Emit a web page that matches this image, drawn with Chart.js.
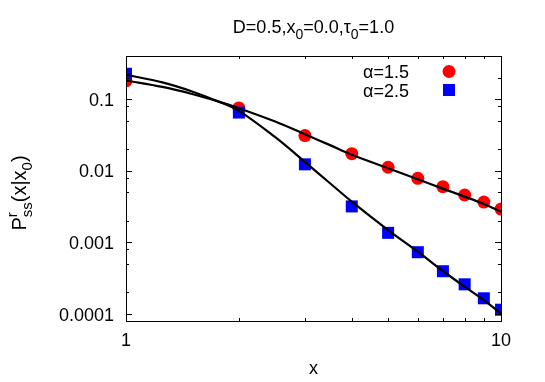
<!DOCTYPE html>
<html><head><meta charset="utf-8">
<script src="https://cdn.jsdelivr.net/npm/chart.js@4.4.0/dist/chart.umd.min.js"></script>
<style>html,body{margin:0;padding:0;background:#fff}#wrap{width:545px;height:382px}</style>
</head><body><div id="wrap"><canvas id="c" width="545" height="382"></canvas></div>
<script>
// ---- data ----
const xPoints = [1, 2, 3, 4, 5, 6, 7, 8, 9, 10];
const alpha15 = [0.18, 0.0755, 0.031, 0.0173, 0.0112, 0.00785, 0.0060, 0.00459, 0.00366, 0.00292];
const alpha25 = [0.226, 0.065, 0.0123, 0.00318, 0.00136, 0.00073, 0.000396, 0.00026, 0.000166, 0.000115];
const xCurve = [1, 1.25, 1.5, 1.75, 2, 2.5, 3, 3.5, 4, 5, 6, 7, 8, 9, 10];
const curve15 = [0.182, 0.148, 0.118, 0.0938, 0.0748, 0.0487, 0.0324, 0.0228, 0.0167, 0.01086, 0.00762, 0.00563, 0.00436, 0.00344, 0.00269];
const curve25 = [0.219, 0.171, 0.128, 0.094, 0.0687, 0.0294, 0.0133, 0.0067, 0.00371, 0.00149, 0.000743, 0.000399, 0.000241, 0.000157, 0.000102];
const xTickValues = [1, 10];
const xTickLabels = ['1', '10'];
const xMinorTicks = [2, 3, 4, 5, 6, 7, 8, 9];
const yTickValues = [0.1, 0.01, 0.001, 0.0001];
const yTickLabels = ['0.1', '0.01', '0.001', '0.0001'];
const yMinorTicks = [0.2, 0.08, 0.05, 0.02, 0.008, 0.005, 0.002, 0.0008, 0.0005, 0.0002];
const legendLabels = ['\u03b1=1.5', '\u03b1=2.5'];

const FONT = '"Liberation Sans", Arial, Helvetica, sans-serif';
const toXY = (xs, ys) => xs.map((x, i) => ({x: x, y: ys[i]}));

function drawRich(ctx, segs, cx, base) {
  const measure = s => { ctx.font = s.size + 'px ' + FONT; return ctx.measureText(s.t).width; };
  let w = 0;
  segs.forEach(s => { w += s.group ? Math.max(...s.group.map(measure)) : measure(s); });
  let x = cx - w / 2;
  ctx.textAlign = 'left';
  ctx.textBaseline = 'alphabetic';
  segs.forEach(s => {
    const items = s.group || [s];
    let mw = 0;
    items.forEach(it => {
      ctx.font = it.size + 'px ' + FONT;
      ctx.fillText(it.t, x, base + (it.dy || 0));
      mw = Math.max(mw, ctx.measureText(it.t).width);
    });
    x += mw;
  });
}

const decor = {
  id: 'decor',
  afterDatasetsDraw(chart) {
    const ctx = chart.ctx, a = chart.chartArea;
    const xs = chart.scales.x, ys = chart.scales.y;
    ctx.save();
    ctx.strokeStyle = '#000';
    ctx.fillStyle = '#000';
    ctx.lineWidth = 1;
    ctx.strokeRect(Math.round(a.left) + 0.5, Math.round(a.top) + 0.5,
                   Math.round(a.right - a.left), Math.round(a.bottom - a.top));
    ctx.beginPath();
    const MAJ = 6, MIN = 3;
    xTickValues.concat(xMinorTicks).forEach((v, i) => {
      const L = i < xTickValues.length ? MAJ : MIN;
      const px = Math.round(xs.getPixelForValue(v)) + 0.5;
      ctx.moveTo(px, a.bottom); ctx.lineTo(px, a.bottom - L);
      ctx.moveTo(px, a.top); ctx.lineTo(px, a.top + L);
    });
    yTickValues.concat(yMinorTicks).forEach((v, i) => {
      const L = i < yTickValues.length ? MAJ : MIN;
      const py = Math.round(ys.getPixelForValue(v)) + 0.5;
      ctx.moveTo(a.left, py); ctx.lineTo(a.left + L, py);
      ctx.moveTo(a.right, py); ctx.lineTo(a.right - L, py);
    });
    ctx.stroke();
    ctx.font = '18px ' + FONT;
    ctx.textBaseline = 'alphabetic';
    ctx.textAlign = 'center';
    xTickValues.forEach((v, i) => ctx.fillText(xTickLabels[i], xs.getPixelForValue(v), 346));
    ctx.textAlign = 'right';
    yTickValues.forEach((v, i) => ctx.fillText(yTickLabels[i], 114, ys.getPixelForValue(v) + 6.5));
    ctx.textAlign = 'center';
    ctx.fillText('x', (a.left + a.right) / 2, 374);
    drawRich(ctx, [
      {t: 'D=0.5,x', size: 18}, {t: '0', size: 14, dy: 6},
      {t: '=0.0,\u03c4', size: 18}, {t: '0', size: 14, dy: 6},
      {t: '=1.0', size: 18}
    ], (a.left + a.right) / 2, 33);
    ctx.save();
    ctx.translate(26, 193);
    ctx.rotate(-Math.PI / 2);
    drawRich(ctx, [
      {t: 'P', size: 20},
      {group: [{t: 'r', size: 15, dy: -9}, {t: 'ss', size: 15, dy: 6}]},
      {t: '(x|x', size: 20}, {t: '0', size: 15, dy: 6}, {t: ')', size: 20}
    ], 0, 0);
    ctx.restore();
    ctx.font = '18px ' + FONT;
    ctx.textAlign = 'right';
    ctx.fillText(legendLabels[0], 409, 78);
    ctx.fillText(legendLabels[1], 409, 97);
    ctx.fillStyle = '#ff0000';
    ctx.beginPath(); ctx.arc(449, 71.5, 6.5, 0, Math.PI * 2); ctx.fill();
    ctx.fillStyle = '#0000ff';
    ctx.fillRect(443, 84, 12, 12);
    ctx.restore();
  }
};

new Chart(document.getElementById('c'), {
  type: 'scatter',
  data: {
    datasets: [
      {label: 'fit 1.5', data: toXY(xCurve, curve15), showLine: true, borderColor: '#000', borderWidth: 2.2,
       pointRadius: 0, tension: 0.35, order: 0, fill: false},
      {label: 'fit 2.5', data: toXY(xCurve, curve25), showLine: true, borderColor: '#000', borderWidth: 2.2,
       pointRadius: 0, tension: 0.35, order: 0, fill: false},
      {label: legendLabels[1], data: toXY(xPoints, alpha25), pointStyle: 'rect', pointRadius: 8.5,
       backgroundColor: '#0000ff', borderColor: '#0000ff', borderWidth: 0, order: 1},
      {label: legendLabels[0], data: toXY(xPoints, alpha15), pointStyle: 'circle', pointRadius: 6.5,
       backgroundColor: '#ff0000', borderColor: '#ff0000', borderWidth: 0, order: 2}
    ]
  },
  options: {
    responsive: false,
    animation: false,
    devicePixelRatio: 1,
    layout: {padding: {left: 126, top: 56, right: 44, bottom: 61}},
    plugins: {legend: {display: false}, tooltip: {enabled: false}, title: {display: false}},
    scales: {
      x: {type: 'logarithmic', min: 1, max: 10, display: false},
      y: {type: 'logarithmic', min: 0.00008, max: 0.4, display: false}
    }
  },
  plugins: [decor]
});
</script>
</body></html>
